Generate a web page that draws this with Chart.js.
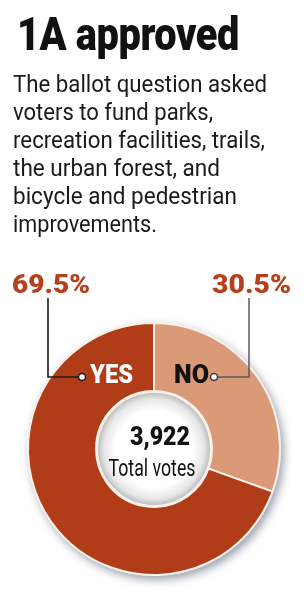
<!DOCTYPE html>
<html>
<head>
<meta charset="utf-8">
<title>1A approved</title>
<script src="https://cdn.jsdelivr.net/npm/chart.js@4.4.1/dist/chart.umd.min.js"></script>
<style>
  html, body { margin: 0; padding: 0; background: #fff; }
  body { width: 308px; height: 605px; position: relative; overflow: hidden; font-family: Roboto, "Liberation Sans", sans-serif; }
  #chart { position: absolute; left: 0; top: 0; }
  .fit { position: absolute; left: 13px; white-space: nowrap; transform-origin: 0 0; color: #1a1a1a; }
  #title { left: 17px; top: 10px; font-size: 47px; line-height: 47px; font-weight: 900; color: #111; letter-spacing: -0.5px; }
  .line { font-size: 23px; line-height: 28px; }
</style>
</head>
<body>
<canvas id="chart" width="308" height="605"></canvas>
<div id="title" class="fit">1A approved</div>
<div id="desc"></div>

<script>
// Chart data
const categories = ["NO", "YES"];
const shares = [30.5, 69.5];
const totalVotes = 3922;
const sliceColors = ["#da9a78", "#b13c18"];

// Headline copy, one entry per printed line
const descLines = [
  "The ballot question asked",
  "voters to fund parks,",
  "recreation facilities, trails,",
  "the urban forest, and",
  "bicycle and pedestrian",
  "improvements."
];
const descWidths = [254, 200, 252, 207, 224, 144];

// Build the description lines
const desc = document.getElementById("desc");
descLines.forEach((text, i) => {
  const div = document.createElement("div");
  div.className = "fit line";
  div.style.top = (71 + i * 28) + "px";
  div.innerText = text;
  desc.appendChild(div);
});

function fitLine(el, width) {
  el.style.transform = "none";
  const w = el.getBoundingClientRect().width;
  el.style.transform = `scaleX(${width / w})`;
}

function fitAll() {
  fitLine(document.getElementById("title"), 222);
  desc.querySelectorAll(".line").forEach((el, i) => fitLine(el, descWidths[i]));
}
fitAll();
document.fonts.ready.then(fitAll);

// Draw text squeezed to a given width (condensed look)
function fitText(ctx, text, x, y, width, align) {
  const w = ctx.measureText(text).width;
  ctx.save();
  ctx.translate(x, y);
  ctx.scale(width / w, 1);
  ctx.textAlign = align;
  ctx.textBaseline = "alphabetic";
  ctx.fillText(text, 0, 0);
  ctx.restore();
}

function dot(ctx, x, y, stroke) {
  ctx.beginPath();
  ctx.arc(x, y, 3.5, 0, Math.PI * 2);
  ctx.fillStyle = "#fff";
  ctx.fill();
  ctx.lineWidth = 1.5;
  ctx.strokeStyle = stroke;
  ctx.stroke();
}

const donutDecor = {
  id: "donutDecor",
  beforeDatasetsDraw(chart) {
    const ctx = chart.ctx;
    const arc = chart.getDatasetMeta(0).data[0];
    ctx.save();
    ctx.shadowColor = "rgba(60, 70, 95, 0.5)";
    ctx.shadowBlur = 9;
    ctx.shadowOffsetX = 3;
    ctx.shadowOffsetY = 4;
    ctx.beginPath();
    ctx.arc(arc.x, arc.y, arc.outerRadius + 1, 0, Math.PI * 2);
    ctx.fillStyle = "#f6eee6";
    ctx.fill();
    ctx.restore();
  },
  afterDatasetsDraw(chart) {
    const ctx = chart.ctx;
    const arc = chart.getDatasetMeta(0).data[0];
    const cx = arc.x, cy = arc.y, r = arc.innerRadius;

    // inner hole with soft inner shadow
    ctx.save();
    const g = ctx.createRadialGradient(cx, cy, 0, cx, cy, r - 1);
    g.addColorStop(0, "#ffffff");
    g.addColorStop(0.68, "#ffffff");
    g.addColorStop(0.88, "#e6e6e6");
    g.addColorStop(1, "#b9b9b9");
    ctx.beginPath();
    ctx.arc(cx, cy, r - 1, 0, Math.PI * 2);
    ctx.fillStyle = g;
    ctx.fill();
    ctx.lineWidth = 2;
    ctx.strokeStyle = "#f7f1ea";
    ctx.stroke();

    // center total
    ctx.fillStyle = "#111";
    ctx.font = "900 26px Roboto, sans-serif";
    fitText(ctx, totalVotes.toLocaleString("en-US"), cx + 6, cy - 4, 60, "center");
    ctx.font = "400 23px Roboto, sans-serif";
    fitText(ctx, "Total votes", cx - 2, cy + 27, 87, "center");

    // leaders
    ctx.lineWidth = 1.6;
    ctx.strokeStyle = "#1c1c1c";
    ctx.beginPath();
    ctx.moveTo(cx - 106, cy - 151);
    ctx.lineTo(cx - 106, cy - 72);
    ctx.lineTo(cx - 72, cy - 72);
    ctx.stroke();
    dot(ctx, cx - 72, cy - 72, "#1c1c1c");

    ctx.strokeStyle = "#5a5a5a";
    ctx.beginPath();
    ctx.moveTo(cx + 95, cy - 151);
    ctx.lineTo(cx + 95, cy - 72);
    ctx.lineTo(cx + 60, cy - 72);
    ctx.stroke();
    dot(ctx, cx + 60, cy - 72, "#3a3a3a");

    // percentages
    ctx.fillStyle = "#b5401c";
    ctx.font = "900 26px Roboto, sans-serif";
    fitText(ctx, shares[1].toFixed(1) + "%", cx - 142, cy - 156, 78, "left");
    fitText(ctx, shares[0].toFixed(1) + "%", cx + 137, cy - 156, 79, "right");

    // slice names
    ctx.fillStyle = "#fff";
    fitText(ctx, categories[1], cx - 64, cy - 66, 43, "left");
    ctx.fillStyle = "#111";
    fitText(ctx, categories[0], cx + 55, cy - 66, 35, "right");
    ctx.restore();
  }
};

new Chart(document.getElementById("chart"), {
  type: "doughnut",
  data: {
    labels: categories,
    datasets: [{
      data: shares,
      backgroundColor: sliceColors,
      borderColor: "#f7f1ea",
      borderWidth: 2
    }]
  },
  options: {
    responsive: false,
    animation: false,
    cutout: "46%",
    layout: { padding: { left: 27, right: 27, top: 322, bottom: 29 } },
    plugins: {
      legend: { display: false },
      tooltip: { enabled: false }
    }
  },
  plugins: [donutDecor]
});
</script>
</body>
</html>
